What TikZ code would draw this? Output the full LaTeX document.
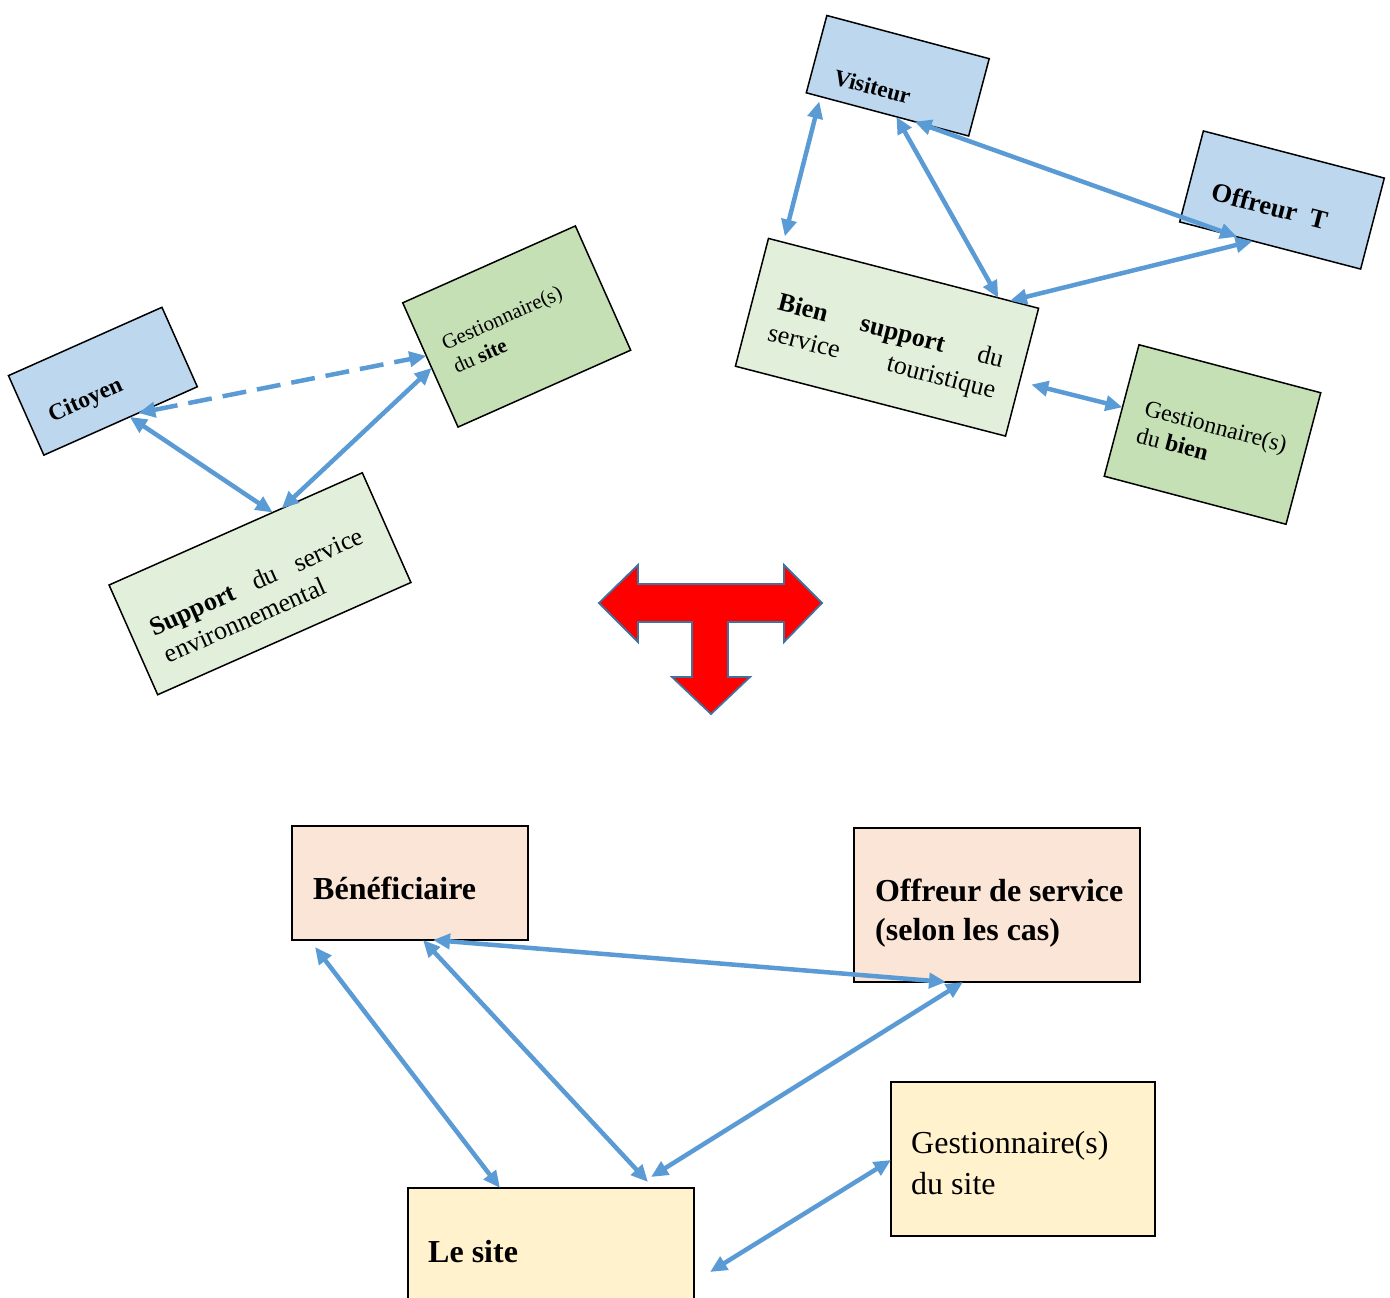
\documentclass[tikz,border=0pt]{standalone}
\usepackage{fontspec}
\setmainfont{Liberation Serif}
\usetikzlibrary{arrows.meta}
\definecolor{lienbleu}{HTML}{5B9BD5}
\definecolor{acteurbleu}{HTML}{BDD7EE}
\definecolor{gestvert}{HTML}{C5E0B4}
\definecolor{supportvert}{HTML}{E2EFDA}
\definecolor{benrose}{HTML}{FBE5D6}
\definecolor{sitejaune}{HTML}{FFF2CC}
\definecolor{bordfleche}{HTML}{41719C}
\newcommand{\taille}[1]{\fontsize{#1}{#1}\selectfont}
\tikzset{
  boite/.style={draw=black, line width=1.5pt, inner sep=0pt, outer sep=0pt},
  txt/.style={anchor=base west, inner sep=0pt},
  lien/.style={draw=lienbleu, line width=4.5pt, <->},
  pointille/.style={dash pattern=on 24pt off 11pt},
}
\begin{document}
\begin{tikzpicture}[x=1pt,y=-1pt,>={Triangle[length=17pt,width=15pt]}]
  \useasboundingbox (0,0) rectangle (1390,1298);
  \clip (0,0) rectangle (1390,1298);
  % environnement
  \begin{scope}[shift={(102.9,381.2)},rotate=24,transform shape]
    \node[boite,fill=acteurbleu,minimum width=168pt,minimum height=87pt] (cit) at (0,0) {};
    \node[txt] (citT) at (-63,17) {\taille{23.5}\textbf{Citoyen}};
  \end{scope}
  \begin{scope}[shift={(516.7,326.5)},rotate=24,transform shape]
    \node[boite,fill=gestvert,minimum width=189pt,minimum height=136pt] (gs) at (0,0) {};
    \node[txt] (gsT1) at (-75,-7) {\taille{21}Gestionnaire(s)};
    \node[txt] (gsT2) at (-74,19) {\taille{21}du \textbf{site}};
  \end{scope}
  \begin{scope}[shift={(260,583.75)},rotate=23.9,transform shape]
    \node[boite,fill=supportvert,minimum width=277pt,minimum height=120pt] (sup) at (0,0) {};
    \node[txt] (supT1) at (-118,5) {\taille{26}\makebox[231pt][s]{\textbf{Support} du service}};
    \node[txt] (supT2) at (-116,36) {\taille{26}environnemental};
  \end{scope}
  % tourisme
  \begin{scope}[shift={(897.75,75.75)},rotate=-14.9,transform shape]
    \node[boite,fill=acteurbleu,minimum width=168pt,minimum height=80pt] (vis) at (0,0) {};
    \node[txt] (visT) at (-61,25) {\taille{23}\textbf{Visiteur}};
  \end{scope}
  \begin{scope}[shift={(1282,200)},rotate=-14.6,transform shape]
    \node[boite,fill=acteurbleu,minimum width=187pt,minimum height=94pt] (offT) at (0,0) {};
    \node[txt] (offTT) at (-70,18) {\taille{26.5}\textbf{Offreur\ \ T}};
  \end{scope}
  \begin{scope}[shift={(887,337.25)},rotate=-14.5,transform shape]
    \node[boite,fill=supportvert,minimum width=279pt,minimum height=132pt] (bien) at (0,0) {};
    \node[txt] (bienT1) at (-114,1) {\taille{26}\makebox[232pt][s]{\textbf{Bien} \textbf{support} du}};
    \node[txt] (bienT2) at (-116,33) {\taille{26}\makebox[234pt][s]{service touristique}};
  \end{scope}
  \begin{scope}[shift={(1212.5,434.5)},rotate=-14.8,transform shape]
    \node[boite,fill=gestvert,minimum width=188pt,minimum height=136pt] (gb) at (0,0) {};
    \node[txt] (gbT1) at (-72,-1) {\taille{23.7}Gestionnaire(s)};
    \node[txt] (gbT2) at (-73,27) {\taille{23.7}du \textbf{bien}};
  \end{scope}
  \path (cit.-77) edge [lien] (sup.56);
  \path (gs.182) edge [lien] (sup.50);
  \path (cit.-66) edge [lien,pointille] (gs.174.5);
  \path (vis.210) edge [lien,shorten <=5pt,shorten >=6pt] (bien.152);
  \path (vis.283) edge [lien] (bien.34);
  \path (vis.305) edge [lien] (offT.234);
  \path (bien.31) edge [lien] (offT.249);
  \path (bien.-4) edge [lien,shorten <=12pt] (gb.178);
  % fleche en T
  \draw[fill=red,draw=bordfleche,line width=1.8pt,line join=miter]
    (599,603) -- (638,565) -- (638,584) -- (784,584) -- (784,565) -- (822,603)
    -- (784,642) -- (784,622) -- (728,622) -- (728,677) -- (750,677) -- (711,714)
    -- (672,677) -- (692,677) -- (692,622) -- (638,622) -- (638,642) -- cycle;
  % synthese
  \node[boite,fill=benrose,minimum width=236pt,minimum height=114pt] (ben) at (410,883) {};
  \node[boite,fill=benrose,minimum width=286pt,minimum height=154pt] (off) at (997,905) {};
  \node[boite,fill=sitejaune,minimum width=286pt,minimum height=152pt] (site) at (551,1264) {};
  \node[boite,fill=sitejaune,minimum width=264pt,minimum height=154pt] (gsb) at (1023,1159) {};
  \node[txt] (benT) at (313,899) {\taille{32}\textbf{Bénéficiaire}};
  \node[txt] (offT1) at (875,901) {\taille{32}\textbf{Offreur de service}};
  \node[txt] (offT2) at (875,940) {\taille{32}\textbf{(selon les cas)}};
  \node[txt] (siteT) at (428,1262) {\taille{32}\textbf{Le site}};
  \node[txt] (gsbT1) at (911,1153) {\taille{32}Gestionnaire(s)};
  \node[txt] (gsbT2) at (911,1194) {\taille{32}du site};
  \path ([xshift=141pt]ben.south west) edge [lien] ([xshift=92pt]off.south west);
  \path ([xshift=23pt,yshift=-7pt]ben.south west) edge [lien] ([xshift=92pt]site.north west);
  \path ([xshift=131pt]ben.south west) edge [lien] ([xshift=240pt,yshift=6pt]site.north west);
  \path ([xshift=109pt]off.south west) edge [lien] ([xshift=243pt,yshift=11pt]site.north west);
  \path ([xshift=16pt,yshift=-84pt]site.north east) edge [lien] ([yshift=-78pt]gsb.north west);
\end{tikzpicture}
\end{document}
